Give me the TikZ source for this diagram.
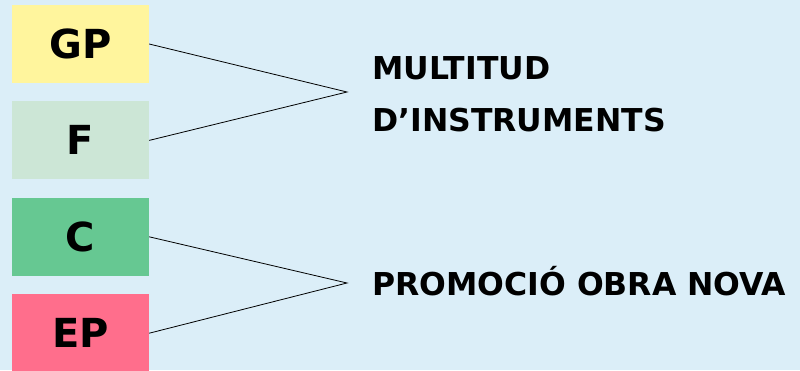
\documentclass[tikz,border=0pt]{standalone}
\usepackage{fontspec}
\setmainfont{DejaVu Sans}
\usetikzlibrary{positioning}
\definecolor{bgblue}{RGB}{219,238,248}
\definecolor{gpyellow}{RGB}{255,245,157}
\definecolor{fgreen}{RGB}{204,230,214}
\definecolor{cgreen}{RGB}{102,200,146}
\definecolor{eppink}{RGB}{255,110,140}

\begin{document}
\begin{tikzpicture}[x=1pt, y=-1pt, node distance=18pt,
    box/.style={minimum width=137pt, minimum height=78pt, inner sep=0pt,
        font=\bfseries\fontsize{40}{40}\selectfont},
    lbl/.style={inner sep=0pt, align=left,
        font=\bfseries\fontsize{31.5}{52}\selectfont}]
        \useasboundingbox (0,0) rectangle (800,370);
        \fill[bgblue] (0,0) rectangle (800,370);

        \node (GP) [box, fill=gpyellow] at (80.5,44) {GP};
        \node (F) [box, fill=fgreen, below=of GP] {F};
        \node (C) [box, fill=cgreen, below=of F] {C};
        \node (EP) [box, fill=eppink, below=of C] {EP};

        \coordinate (m) at (347,92);
        \coordinate (p) at (347,283);
        \node (multi) [lbl, anchor=west] at (372,94) {MULTITUD\\D’INSTRUMENTS};
        \node (promo) [lbl, anchor=base west] at (372,295) {PROMOCIÓ OBRA NOVA};

        \draw[line width=0.8pt] (GP.east) -- (m) -- (F.east);
        \draw[line width=0.8pt] (C.east) -- (p) -- (EP.east);
    \end{tikzpicture}
\end{document}
